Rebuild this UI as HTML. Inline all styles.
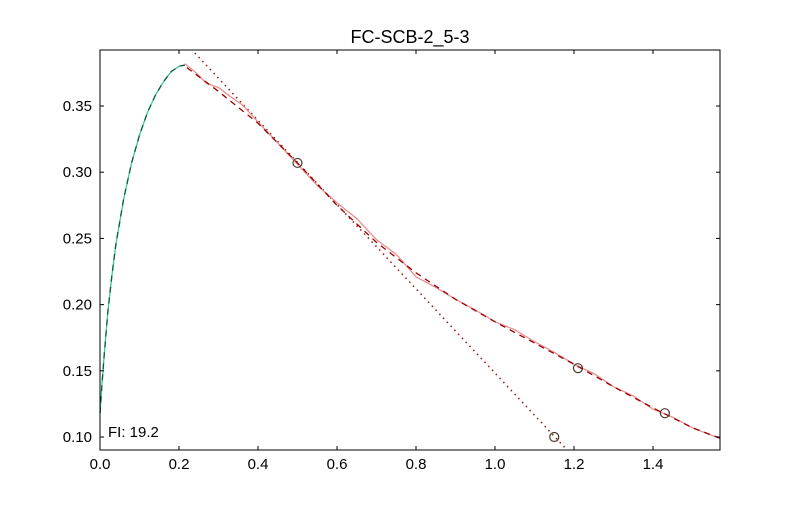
<!DOCTYPE html>
<html><head><meta charset="utf-8"><style>
body{margin:0;background:#fff;}
svg text{font-family:"Liberation Sans","DejaVu Sans",sans-serif;}
</style></head><body>
<svg id="c" width="800" height="500"></svg>
<script>
const title="FC-SCB-2_5-3";
const xTicks=[0.0,0.2,0.4,0.6,0.8,1.0,1.2,1.4];
const yTicks=[0.10,0.15,0.20,0.25,0.30,0.35];
const riseX=[0,0.005,0.01,0.02,0.03,0.04,0.06,0.08,0.1,0.12,0.14,0.16,0.18,0.2,0.215];
const riseY=[0.118,0.14,0.16,0.195,0.222,0.245,0.28,0.307,0.328,0.345,0.358,0.368,0.376,0.38,0.381];
const fallX=[0.22,0.3,0.4,0.5,0.6,0.7,0.8,0.9,1.0,1.1,1.2,1.3,1.4,1.5,1.57];
const fallY=[0.379,0.361,0.337,0.307,0.275,0.247,0.224,0.204,0.187,0.171,0.155,0.138,0.122,0.107,0.099];
const noisyX=[0.215,0.24,0.27,0.3,0.33,0.36,0.4,0.45,0.5,0.55,0.6,0.65,0.7,0.75,0.8,0.85,0.9,0.95,1.0,1.05,1.1,1.15,1.2,1.25,1.3,1.35,1.4,1.45,1.5,1.55,1.57];
const noisyY=[0.382,0.376,0.367,0.364,0.357,0.351,0.338,0.322,0.306,0.29,0.277,0.265,0.249,0.238,0.221,0.213,0.204,0.196,0.187,0.181,0.172,0.164,0.155,0.148,0.138,0.131,0.121,0.115,0.107,0.101,0.099];
const markX=[0.5,1.21,1.43,1.15];
const markY=[0.307,0.152,0.118,0.100];
const tanX=[0.24,1.18];
const tanY=[0.390,0.091];
const label="FI: 19.2";
const L=100,R=720,T=50,B=450,xmin=0,xmax=1.5696,ymin=0.0902,ymax=0.3923;
const sx=v=>L+(v-xmin)/(xmax-xmin)*(R-L);
const sy=v=>B-(v-ymin)/(ymax-ymin)*(B-T);
const svg=document.getElementById('c');
const NS="http://www.w3.org/2000/svg";
function mk(t,a){const e=document.createElementNS(NS,t);for(const k in a)e.setAttribute(k,a[k]);svg.appendChild(e);return e;}
function pts(xs,ys){return xs.map((x,i)=>sx(x).toFixed(1)+","+sy(ys[i]).toFixed(1)).join(" ");}
const defs=mk('clipPath',{id:'cp'});const cr=document.createElementNS(NS,'rect');cr.setAttribute('x',L);cr.setAttribute('y',T);cr.setAttribute('width',R-L);cr.setAttribute('height',B-T);defs.appendChild(cr);
let e;
e=mk('polyline',{points:pts(tanX,tanY),fill:'none',stroke:'#a01010','stroke-width':1.5,'stroke-dasharray':'1.5,4','clip-path':'url(#cp)'});

e=mk('polyline',{points:pts(riseX,riseY),fill:'none',stroke:'#3cc79a','stroke-width':1.3});

e=mk('polyline',{points:pts(riseX,riseY),fill:'none',stroke:'#0a5c36','stroke-width':1.3,'stroke-dasharray':'6,5'});

e=mk('polyline',{points:pts(noisyX,noisyY),fill:'none',stroke:'#e89090','stroke-width':1.3});

e=mk('polyline',{points:pts(fallX,fallY),fill:'none',stroke:'#9a0000','stroke-width':1.3,'stroke-dasharray':'6,5'});

markX.forEach((x,i)=>{e=mk('circle',{cx:sx(x),cy:sy(markY[i]),r:4.5,fill:'none',stroke:'#4a3a2a','stroke-width':1.2});
});
e=mk('rect',{x:L,y:T,width:R-L,height:B-T,fill:'none',stroke:'#000','stroke-width':1});

xTicks.forEach(v=>{const x=sx(v);
mk('line',{x1:x,x2:x,y1:B,y2:B-4,stroke:'#000'});mk('line',{x1:x,x2:x,y1:T,y2:T+4,stroke:'#000'});
e=mk('text',{x:x,y:B+19,'font-size':15,'text-anchor':'middle'});e.textContent=v.toFixed(1);
});
yTicks.forEach(v=>{const y=sy(v);
mk('line',{x1:L,x2:L+4,y1:y,y2:y,stroke:'#000'});mk('line',{x1:R,x2:R-4,y1:y,y2:y,stroke:'#000'});
e=mk('text',{x:L-8,y:y+5,'font-size':15,'text-anchor':'end'});e.textContent=v.toFixed(2);
});
e=mk('text',{x:410,y:43,'font-size':18,'text-anchor':'middle'});e.textContent=title;

e=mk('text',{x:108,y:437,'font-size':15});e.textContent=label;

</script>
</body></html>
